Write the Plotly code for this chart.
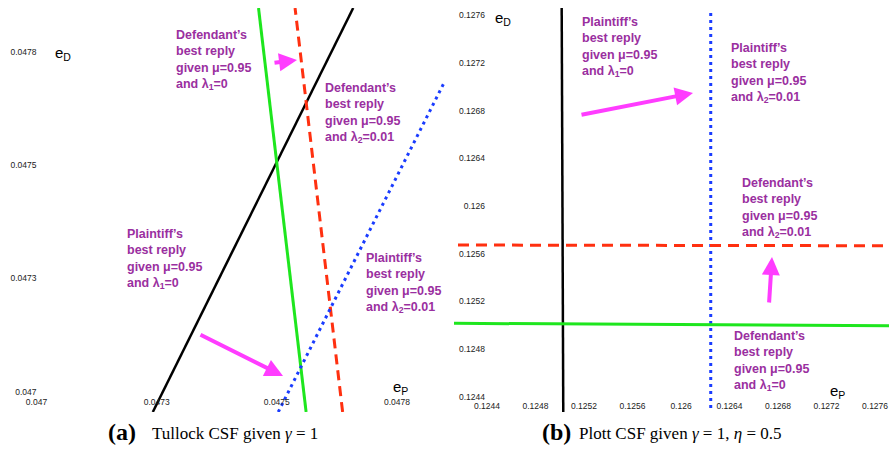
import plotly.graph_objects as go

# ---------------- data ----------------
# Panel (a): Tullock CSF
tullock_plaintiff_l1_x = [0.047242, 0.047659]
tullock_plaintiff_l1_y = [0.046955, 0.047847]
tullock_defendant_l1_x = [0.047561, 0.047462]
tullock_defendant_l1_y = [0.046955, 0.047847]
tullock_defendant_l2_x = [0.047637, 0.047538]
tullock_defendant_l2_y = [0.046955, 0.047847]
tullock_plaintiff_l2_x = [0.047503, 0.047850]
tullock_plaintiff_l2_y = [0.046955, 0.047686]
tullock_tickvals = [0.047, 0.04725, 0.0475, 0.04775]
tullock_ticktext = ["0.047", "0.0473", "0.0475", "0.0478"]

# Panel (b): Plott CSF
plott_plaintiff_l1_x = [0.125016, 0.125029]
plott_plaintiff_l1_y = [0.127659, 0.124274]
plott_plaintiff_l2_x = [0.126245, 0.126245]
plott_plaintiff_l2_y = [0.127617, 0.124274]
plott_defendant_l2_x = [0.124161, 0.127715]
plott_defendant_l2_y = [0.125673, 0.125667]
plott_defendant_l1_x = [0.124128, 0.127715]
plott_defendant_l1_y = [0.125017, 0.124997]
plott_tickvals = [0.1244, 0.1248, 0.1252, 0.1256, 0.126, 0.1264, 0.1268, 0.1272, 0.1276]
plott_ticktext = ["0.1244", "0.1248", "0.1252", "0.1256", "0.126", "0.1264", "0.1268", "0.1272", "0.1276"]

# ---------------- styling ----------------
W, H = 889, 451
BLACK = "#000000"
GREEN = "#1EE61E"
RED = "#FF3010"
BLUE = "#1A3CFF"
PURPLE = "#9A2FA0"
MAGENTA = "#FF3CFF"
SANS = "Liberation Sans, Arial, Helvetica, sans-serif"
SERIF = "Liberation Serif, Times New Roman, serif"


def fx(px):
    return px / W


def fy(py):
    return 1 - py / H


fig = go.Figure()

def add_line(x, y, color, width, dash, xa, ya):
    fig.add_trace(go.Scatter(x=x, y=y, mode="lines", xaxis=xa, yaxis=ya,
                             line=dict(color=color, width=width, dash=dash),
                             showlegend=False, hoverinfo="skip", cliponaxis=True))

add_line(tullock_plaintiff_l1_x, tullock_plaintiff_l1_y, BLACK, 2.5, "solid", "x", "y")
add_line(tullock_defendant_l1_x, tullock_defendant_l1_y, GREEN, 3, "solid", "x", "y")
add_line(tullock_defendant_l2_x, tullock_defendant_l2_y, RED, 3, "10px,6px", "x", "y")
add_line(tullock_plaintiff_l2_x, tullock_plaintiff_l2_y, BLUE, 3, "3px,4px", "x", "y")

add_line(plott_plaintiff_l1_x, plott_plaintiff_l1_y, BLACK, 2.5, "solid", "x2", "y2")
add_line(plott_plaintiff_l2_x, plott_plaintiff_l2_y, BLUE, 3, "3px,4px", "x2", "y2")
add_line(plott_defendant_l2_x, plott_defendant_l2_y, RED, 3, "11px,7px", "x2", "y2")
add_line(plott_defendant_l1_x, plott_defendant_l1_y, GREEN, 3, "solid", "x2", "y2")

tickfont = dict(family=SANS, size=8.5, color="#222222")
common_axis = dict(showgrid=False, zeroline=False, showline=False, ticks="",
                   tickfont=tickfont, fixedrange=True, automargin=False)

fig.update_layout(
    width=W, height=H, autosize=False,
    margin=dict(l=0, r=0, t=0, b=0, pad=0, autoexpand=False),
    paper_bgcolor="white", plot_bgcolor="white",
    xaxis=dict(domain=[fx(36.5), fx(445)], range=[0.047, 0.04785],
               tickvals=tullock_tickvals, ticktext=tullock_ticktext,
               anchor="free", position=fy(395), **common_axis),
    yaxis=dict(domain=[fy(412), fy(8)], range=[0.046955, 0.047847],
               tickvals=tullock_tickvals, ticktext=tullock_ticktext,
               anchor="free", position=fx(36.5), **common_axis),
    xaxis2=dict(domain=[fx(454), fx(889)], range=[0.124128, 0.127715],
                tickvals=plott_tickvals, ticktext=plott_ticktext,
                anchor="free", position=fy(399), **common_axis),
    yaxis2=dict(domain=[fy(412), fy(8)], range=[0.124274, 0.127659],
                tickvals=plott_tickvals, ticktext=plott_ticktext,
                anchor="free", position=fx(485), **common_axis),
)

ann = []

def label(text, left, cy, size=12.5, color=PURPLE, bold=True, family=SANS):
    t = f"<b>{text}</b>" if bold else text
    ann.append(dict(text=t, x=fx(left), y=fy(cy), xref="paper", yref="paper",
                    xanchor="left", yanchor="middle", align="left", showarrow=False,
                    font=dict(family=family, size=size, color=color)))

def br(who, sub, val):
    return f"{who}’s<br>best reply<br>given μ=0.95<br>and λ<sub>{sub}</sub>={val}"

# Panel (a) text
label(br("Defendant", 1, "0"), 174, 60)
label(br("Defendant", 2, "0.01"), 323, 113)
label(br("Plaintiff", 1, "0"), 125, 259)
label(br("Plaintiff", 2, "0.01"), 364, 283)
# Panel (b) text
label(br("Plaintiff", 1, "0"), 580, 47)
label(br("Plaintiff", 2, "0.01"), 729, 73)
label(br("Defendant", 2, "0.01"), 740, 208)
label(br("Defendant", 1, "0"), 732, 361)

# Axis names
label("e<sub>D</sub>", 53, 53, size=15, color="#000000", bold=False)
label("e<sub>P</sub>", 391, 387, size=15, color="#000000", bold=False)
label("e<sub>D</sub>", 493, 19, size=15, color="#000000", bold=False)
label("e<sub>P</sub>", 828, 391, size=15, color="#000000", bold=False)

# Captions
label("(a)", 106, 432, size=24, color="#000000", bold=True, family=SERIF)
label("Tullock CSF given <i>γ</i> = 1", 150, 433, size=17, color="#000000", bold=False, family=SERIF)
label("(b)", 540, 432, size=24, color="#000000", bold=True, family=SERIF)
label("Plott CSF given <i>γ</i> = 1, <i>η</i> = 0.5", 577, 433, size=17, color="#000000", bold=False, family=SERIF)

# Arrows (tail -> tip in pixels)
def arrow(tail, tip):
    ann.append(dict(x=fx(tip[0]), y=fy(tip[1]), xref="paper", yref="paper",
                    ax=tail[0] - tip[0], ay=tail[1] - tip[1], axref="pixel", ayref="pixel",
                    text="", showarrow=True, arrowhead=2, arrowsize=0.9,
                    arrowwidth=4, arrowcolor=MAGENTA, standoff=0, startstandoff=0))

arrow((273, 63), (297, 60))
arrow((199, 334), (283, 376))
arrow((580, 115), (693, 93))
arrow((769, 304), (772, 257))

fig.update_layout(annotations=ann)

fig.write_html("out.html",
               config={"displayModeBar": False, "staticPlot": True},
               post_script="document.body.style.margin='0';document.body.style.overflow='hidden';")
